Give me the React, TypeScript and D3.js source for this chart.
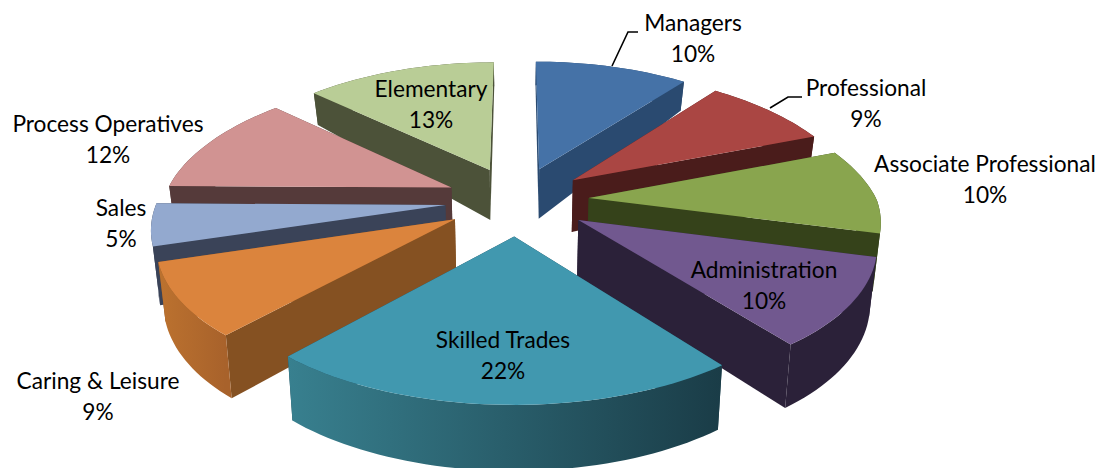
import React from "react";
import * as d3 from "d3";

const categories = ["Managers","Professional","Associate Professional","Administration","Skilled Trades","Caring & Leisure","Sales","Process Operatives","Elementary"];
const values = [10.4,8.6,10.1,10.4,22.2,8.6,4.9,11.9,12.9];
const percentLabels = ["10%","9%","10%","10%","22%","9%","5%","12%","13%"];

const topColors = ["#4572A7","#AA4643","#89A54E","#71588F","#4198AF","#DB843D","#93A9CF","#D19392","#B9CD96"];
const sideColors = ["#2A4A70","#4A1C1B","#35421A","#2B2139","#1F4552","#855122","#3A4358","#553A3A","#4C5239"];
const outerLeft = ["#2A4A70","#4A1C1B","#35421A","#2B2139","#38808F","#BC722F","#3A4358","#553A3A","#4C5239"];
const outerRight = ["#2A4A70","#4A1C1B","#35421A","#2B2139","#1A3C47","#A8622B","#3A4358","#553A3A","#4C5239"];

const labelX = [693,866,985,764,503,98,121,108,431];
const labelY = [31,96,172,278,348,389,216,132,97];

const leaders = [
  [[612,66],[628,32],[638,32]],
  [[770,108],[788,97],[802,97]],
];

const cx = 517, cy = 200, Rx = 288, RyFront = 136, RyBack = 129;
const kFrontX = 0.145, kFrontY = 0.13, kBackX = 0.18, kBackY = 0.13;
const explodeX = 0.25, explodeY = 0.26, floorShrink = 0.98;
const height = d3.scaleLinear().domain([-1,0,1]).range([30,56,64]);

type P = [number, number];
function proj(u:number, v:number, down:boolean):P {
  const sx = 1/(1-(v<0?kBackX:kFrontX)*v);
  const sy = 1/(1-(v<0?kBackY:kFrontY)*v);
  const x = cx + Rx*u*sx*(down?floorShrink:1);
  const y = cy + (v<0?RyBack:RyFront)*v*sy;
  return [x, down ? y + height(v) : y];
}

const arcs = d3.pie<number>().sort(null).startAngle(0).endAngle(2*Math.PI)(values);
const line = d3.line<P>();

type Wall = {d:string; v:number; fill:string; key:string};

function build(i:number){
  const a = arcs[i];
  const mid = (a.startAngle+a.endAngle)/2;
  const ou = explodeX*Math.sin(mid), ov = -explodeY*Math.cos(mid);
  const n = Math.max(6, Math.ceil((a.endAngle-a.startAngle)/0.03));
  const rim = d3.range(n+1).map(j=>{
    const t = a.startAngle+(a.endAngle-a.startAngle)*j/n;
    return [ou+Math.sin(t), ov-Math.cos(t)] as P;
  });
  const top = [[ou,ov] as P, ...rim].map(p=>proj(p[0],p[1],false));
  const q = (p:P,r:P)=>[proj(p[0],p[1],false),proj(r[0],r[1],false),proj(r[0],r[1],true),proj(p[0],p[1],true)] as P[];
  const apex:P = [ou,ov];
  const outerPts = [...rim.map(p=>proj(p[0],p[1],false)), ...rim.slice().reverse().map(p=>proj(p[0],p[1],true))];
  const walls:Wall[] = [
    {key:"s",d:line(q(apex,rim[0]))+"Z",v:(ov+rim[0][1])/2,fill:sideColors[i]},
    {key:"e",d:line(q(apex,rim[n]))+"Z",v:(ov+rim[n][1])/2,fill:sideColors[i]},
    {key:"o",d:line(outerPts)+"Z",v:d3.mean(rim,p=>p[1])!+0.02,fill:`url(#outer${i})`},
  ].sort((x,y)=>x.v-y.v);
  const xs = top.map(p=>p[0]);
  return {i, ov, walls, topD:line(top)+"Z", x0:d3.min(xs.slice(1))!, x1:d3.max(xs.slice(1))!};
}

const slices = values.map((_,i)=>build(i)).sort((a,b)=>a.ov-b.ov);

export default function App(){
  return (
    <svg width={1100} height={468} viewBox="0 0 1100 468" style={{position:"absolute",left:0,top:0,background:"#fff"}}>
      <defs>
        {slices.map(s=>(
          <linearGradient key={s.i} id={`outer${s.i}`} gradientUnits="userSpaceOnUse" x1={s.x0} x2={s.x1} y1={0} y2={0}>
            <stop offset="0" stopColor={outerLeft[s.i]}/>
            <stop offset="1" stopColor={outerRight[s.i]}/>
          </linearGradient>
        ))}
      </defs>
      {slices.map(s=>(
        <g key={s.i}>
          {s.walls.map(w=><path key={w.key} d={w.d} fill={w.fill}/>)}
          <path d={s.topD} fill={topColors[s.i]}/>
        </g>
      ))}
      {leaders.map((l,i)=><path key={i} d={line(l as P[])!} fill="none" stroke="#000" strokeWidth={1.6}/>)}
      <g fontFamily="Lato, Carlito, sans-serif" fontSize={22.7} fill="#000" textAnchor="middle">
        {categories.map((c,i)=>(
          <g key={c}>
            <text x={labelX[i]} y={labelY[i]}>{c}</text>
            <text x={labelX[i]} y={labelY[i]+30.5}>{percentLabels[i]}</text>
          </g>
        ))}
      </g>
    </svg>
  );
}
